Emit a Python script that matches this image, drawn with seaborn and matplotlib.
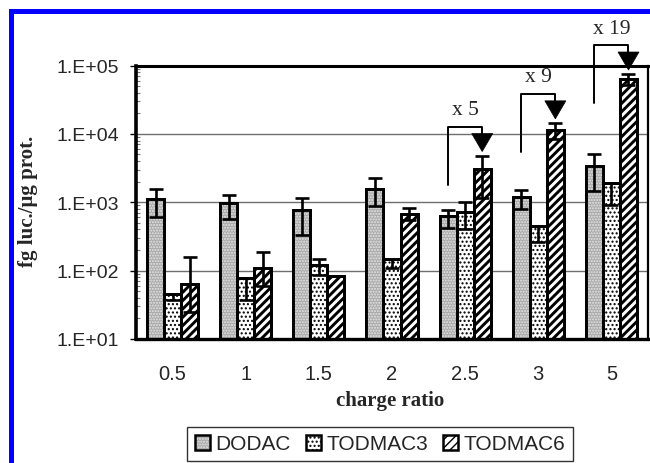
import numpy as np
import pandas as pd
import matplotlib
matplotlib.use("Agg")
import matplotlib.pyplot as plt
import seaborn as sns
from matplotlib.patches import Patch, Rectangle, Polygon
from matplotlib.lines import Line2D
from matplotlib.legend_handler import HandlerTuple
from matplotlib.ticker import FixedLocator, LogLocator, NullFormatter

# ---------------- data ----------------
ratios = ["0.5", "1", "1.5", "2", "2.5", "3", "5"]
series = ["DODAC", "TODMAC3", "TODMAC6"]

dodac = [1125, 973, 778, 1538, 628, 1191, 3375]
dodac_lo = [608, 574, 327, 879, 420, 803, 1440]
dodac_hi = [1540, 1285, 1151, 2254, 776, 1490, 5100]

todmac3 = [45, 78, 122, 146, 719, 450, 1928]
todmac3_lo = [37, 37, 87, 109, 410, 265, 897]
todmac3_hi = [45, 78, 146, 146, 1006, 450, 1928]

todmac6 = [63, 109, 84, 679, 3013, 11430, 63600]
todmac6_lo = [25, 60, 84, 550, 1150, 8400, 52000]
todmac6_hi = [158, 187, 84, 822, 4820, 14500, 75100]

y_ticks = [1e1, 1e2, 1e3, 1e4, 1e5]
y_ticklabels = ["1.E+01", "1.E+02", "1.E+03", "1.E+04", "1.E+05"]

fold_idx = [4, 5, 6]
fold_labels = ["x 5", "x 9", "x 19"]

# ---------------- style ----------------
sns.set_theme(style="white")
plt.rcParams["font.family"] = ["Liberation Sans", "DejaVu Sans"]
plt.rcParams["hatch.linewidth"] = 1.0

W, H = 650, 464
fig = plt.figure(figsize=(W / 100, H / 100), dpi=100)
fig.patch.set_facecolor("white")
ax = fig.add_axes([136 / W, 1 - 340 / H, (648 - 136) / W, (340 - 66.5) / H])

df = pd.DataFrame({
    "ratio": ratios * 3,
    "value": dodac + todmac3 + todmac6,
    "lipid": [series[0]] * 7 + [series[1]] * 7 + [series[2]] * 7,
})

fills = ["#a9a9a9", "white", "white"]
hatches = ["......", "....", "////"]
hatch_cols = ["#e6e6e6", "black", "black"]
hatch_lws = [1.0, 1.0, 2.1]

sns.barplot(data=df, x="ratio", y="value", hue="lipid", order=ratios,
            hue_order=series, palette=fills, width=0.7, errorbar=None,
            edgecolor="black", linewidth=2.0, legend=False, ax=ax,
            log_scale=True, zorder=3)
ax.set_yscale("log")


def pattern_patch(xy, w, h, hatch, col, hlw, zorder):
    r = Rectangle(xy, w, h, facecolor="none", edgecolor=col, lw=0, hatch=hatch,
                  zorder=zorder)
    try:
        r.set_hatch_linewidth(hlw)
    except Exception:
        pass
    return r


for cont, h, hc, hl in zip(ax.containers, hatches, hatch_cols, hatch_lws):
    for p in cont:
        ax.add_patch(pattern_patch((p.get_x(), p.get_y()), p.get_width(), p.get_height(),
                                   h, hc, hl, 3.5))
        ax.add_patch(Rectangle((p.get_x(), p.get_y()), p.get_width(), p.get_height(),
                               facecolor="none", edgecolor="black", lw=2.0, zorder=4))

# error bars
vals = [dodac, todmac3, todmac6]
los = [dodac_lo, todmac3_lo, todmac6_lo]
his = [dodac_hi, todmac3_hi, todmac6_hi]
centers = []
for cont, v, lo, hi in zip(ax.containers, vals, los, his):
    xs = [p.get_x() + p.get_width() / 2 for p in cont]
    centers.append(xs)
    v = np.array(v, float)
    err = [v - np.array(lo, float), np.array(hi, float) - v]
    ax.errorbar(xs, v, yerr=err, fmt="none", ecolor="black", elinewidth=1.9,
                capsize=5, capthick=1.9, zorder=6)

ax.set_xlim(-0.5, len(ratios) - 0.5)
ax.set_ylim(10, 1e5)

# grid / axes
for y in [1e2, 1e3, 1e4]:
    ax.axhline(y, color="#6f6f6f", lw=1.0, zorder=1)
ax.yaxis.set_major_locator(FixedLocator(y_ticks))
ax.set_yticklabels(y_ticklabels)
ax.yaxis.set_minor_locator(LogLocator(base=10, subs=np.arange(2, 10)))
ax.yaxis.set_minor_formatter(NullFormatter())
ax.tick_params(axis="y", which="major", direction="out", length=4.5, width=1,
               color="black", labelsize=14, pad=8, left=True)
ax.tick_params(axis="y", which="minor", direction="in", length=3, width=0.8,
               color="#777777", left=True)
ax.tick_params(axis="x", length=0, labelsize=14.5, pad=18)
ax.set_xlabel("")
ax.set_ylabel("")
for s, lw in zip(["left", "top", "bottom", "right"], [2.6, 2.2, 2.4, 1.6]):
    ax.spines[s].set_visible(True)
    ax.spines[s].set_color("black")
    ax.spines[s].set_linewidth(lw)
    ax.spines[s].set_zorder(7)
ax.set_facecolor("white")

fig.text(390 / W, 1 - 401 / H, "charge ratio", ha="center", va="center",
         fontsize=15, fontweight="bold", family=["Liberation Serif", "DejaVu Serif"])
fig.text(28 / W, 1 - 201 / H, "fg luc./µg prot.", ha="center", va="center",
         rotation=90, fontsize=15, fontweight="bold",
         family=["Liberation Serif", "DejaVu Serif"])

# legend (fill + pattern + outline overlaid)
handles = []
for f, h, hc, hl in zip(fills, hatches, hatch_cols, hatch_lws):
    base = Patch(facecolor=f, edgecolor="none", lw=0)
    pat = Patch(facecolor="none", edgecolor=hc, hatch=h, lw=0)
    try:
        pat.set_hatch_linewidth(hl)
    except Exception:
        pass
    outline = Patch(facecolor="none", edgecolor="black", lw=1.8)
    handles.append((base, pat, outline))
leg = fig.legend(handles, series, loc="center", bbox_to_anchor=(380 / W, 1 - 445 / H),
                 ncol=3, fontsize=15, frameon=True, fancybox=False,
                 handlelength=0.75, handleheight=0.75, handletextpad=0.25,
                 columnspacing=0.7, borderpad=0.35, borderaxespad=0,
                 handler_map={tuple: HandlerTuple(ndivide=1, pad=0)})
leg.get_frame().set_edgecolor("black")
leg.get_frame().set_linewidth(1.0)

# fold-change brackets
inv = fig.transFigure.inverted()
for i, lab in zip(fold_idx, fold_labels):
    xl, yc = ax.transData.transform((centers[0][i], todmac6_hi[i]))
    xr, _ = ax.transData.transform((centers[2][i], todmac6_hi[i]))
    top = yc + 29
    pts = inv.transform([(xl, top - 58), (xl, top), (xr, top), (xr, yc + 22)])
    fig.add_artist(Line2D(pts[:, 0], pts[:, 1], color="black", lw=1.4))
    tri = inv.transform([(xr - 10.5, yc + 22), (xr + 10.5, yc + 22), (xr, yc + 4)])
    fig.add_artist(Polygon(tri, closed=True, facecolor="black", edgecolor="black", lw=0.5))
    tx, ty = inv.transform(((xl + xr) / 2, top + 17))
    fig.text(tx, ty, lab, ha="center", va="center", fontsize=15.5,
             family=["Liberation Serif", "DejaVu Serif"])

# blue frame
fig.add_artist(Rectangle((10.5 / W, -0.2), 1.5, 1.2 - 12 / H, transform=fig.transFigure,
                         fill=False, edgecolor="#0000ff", lw=3.6))

fig.savefig("out.png", dpi=100, facecolor="white")
